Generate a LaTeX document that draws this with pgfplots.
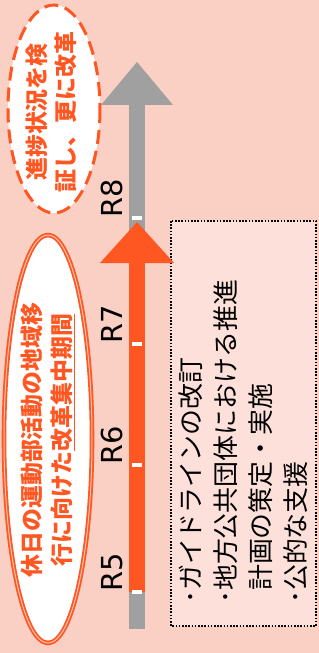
\documentclass[border=0pt]{standalone}
\usepackage{fontspec}
\setmainfont{Noto Sans CJK JP}
\newfontfamily\latinf{DejaVu Sans}
\usepackage{pgfplots}
\pgfplotsset{compat=1.18}
\usepackage{pgfplotstable}
\definecolor{bgpink}{RGB}{250,207,196}
\definecolor{boxpink}{RGB}{252,224,217}
\definecolor{orng}{RGB}{255,87,34}
\definecolor{agray}{RGB}{160,160,160}

\pgfplotstableread{
label y
R5 592
R6 465
R7 344
R8 218
}\years

\begin{document}
\begin{tikzpicture}
\begin{axis}[width=319bp,height=653bp,scale only axis,
  xmin=0,xmax=319,ymin=0,ymax=653,y dir=reverse,
  axis lines=none, ticks=none, clip=false]
% background
\fill[bgpink] (axis cs:0,0) rectangle (axis cs:319,653);
% box
\draw[black, line width=1.6bp, dash pattern=on 1.6bp off 1.6bp, fill=boxpink]
  (axis cs:171,221) rectangle (axis cs:316,626);
% gray arrow
\addplot[draw=agray, line width=16bp, forget plot] coordinates {(137,629) (137,100)};
\addplot[fill=agray, draw=none, forget plot] coordinates {(101,105) (137,62) (173,105)} -- cycle;
% orange arrow
\addplot[draw=orng, line width=16bp, forget plot] coordinates {(137,592) (137,258)};
\addplot[fill=orng, draw=none, forget plot] coordinates {(100,263) (137,222) (174,263)} -- cycle;
% year ticks
\addplot[only marks, mark=-, mark size=5bp, white, mark options={line width=3.5bp}, forget plot]
  table[x expr=137, y=y] {\years};
% year labels
\addplot[only marks, mark=none, nodes near coords, point meta=explicit symbolic,
  nodes near coords style={rotate=90, anchor=base west, inner sep=0pt, font=\latinf\fontsize{29}{34}\selectfont, text=black}, forget plot]
  table[x expr=122, y=y, meta=label] {\years};
% top ellipse
\draw[orng, line width=3bp, dash pattern=on 14bp off 7bp, fill=white]
  (axis cs:54,109) ellipse [x radius=46, y radius=104];
\node[rotate=90, align=center, inner sep=0pt, text=orng,
  font=\bfseries\fontsize{23}{29}\selectfont] at (axis cs:51.5,112)
  {進捗状況を検\\証し、更に改革};
% big ellipse
\draw[orng, line width=1.8bp, double=orng!35, double distance=1bp, fill=white]
  (axis cs:48,439) ellipse [x radius=44, y radius=204];
\node[rotate=90, align=center, inner sep=0pt, text=orng,
  font=\bfseries\fontsize{23}{30}\selectfont] at (axis cs:48,440)
  {休日の運動部活動の地域移\\行に向けた\underline{改革集中期間}};
% box text
\node[rotate=90, anchor=north west, align=left, inner sep=0pt,
  font=\fontsize{26}{35}\selectfont] at (axis cs:179,604)
  {･ガイドラインの改訂\\･地方公共団体における推進\\\phantom{･}計画の策定・実施\\･公的な支援};
\end{axis}
\pgfresetboundingbox
\useasboundingbox (current axis.south west) rectangle (current axis.north east);
\end{tikzpicture}
\end{document}
